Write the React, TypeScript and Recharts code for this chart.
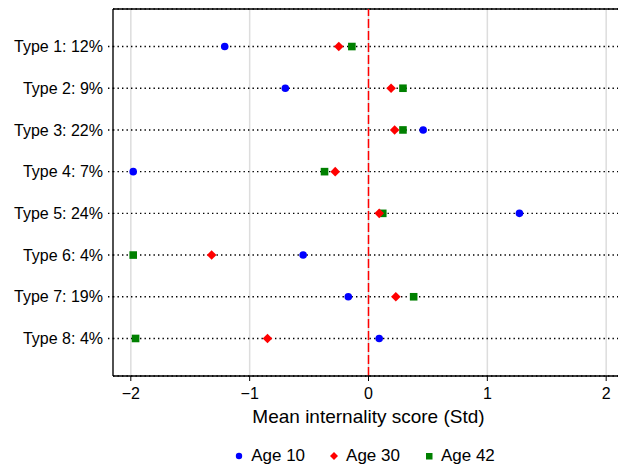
import React from 'react';
import {
  ScatterChart,
  Scatter,
  XAxis,
  YAxis,
  CartesianGrid,
  ReferenceLine,
  Legend,
} from 'recharts';

// Row labels, top to bottom
const categories = [
  'Type 1: 12%',
  'Type 2: 9%',
  'Type 3: 22%',
  'Type 4: 7%',
  'Type 5: 24%',
  'Type 6: 4%',
  'Type 7: 19%',
  'Type 8: 4%',
];

// Mean internality score (std) per type
const age10 = [-1.21, -0.7, 0.46, -1.98, 1.27, -0.55, -0.17, 0.09];
const age30 = [-0.25, 0.19, 0.22, -0.28, 0.09, -1.32, 0.23, -0.85];
const age42 = [-0.14, 0.29, 0.29, -0.37, 0.12, -1.98, 0.38, -1.96];

const xTicks = [-2, -1, 0, 1, 2];
const rowTicks = categories.map((_, i) => i + 1);

const toPoints = (vals: number[]) => vals.map((x, i) => ({ x, row: i + 1 }));

const FONT = '"Liberation Sans", Arial, Helvetica, sans-serif';

const Dot = ({ cx, cy, fill }: any) => <circle cx={cx} cy={cy} r={3.8} fill={fill} />;
const Diamond = ({ cx, cy, fill }: any) => (
  <polygon
    points={`${cx},${cy - 4.8} ${cx + 4.8},${cy} ${cx},${cy + 4.8} ${cx - 4.8},${cy}`}
    fill={fill}
  />
);
const Square = ({ cx, cy, fill }: any) => (
  <rect x={cx - 3.8} y={cy - 3.8} width={7.6} height={7.6} fill={fill} />
);

const legendItems = [
  { name: 'Age 10', color: '#0000ff', kind: 'circle' },
  { name: 'Age 30', color: '#ff0000', kind: 'diamond' },
  { name: 'Age 42', color: '#008000', kind: 'square' },
];

const renderLegend = () => (
  <div style={{ display: 'flex', justifyContent: 'center', alignItems: 'center', fontFamily: FONT, fontSize: 17, color: '#000' }}>
    {legendItems.map((it, i) => (
      <div key={it.name} style={{ display: 'flex', alignItems: 'center', marginRight: i < 2 ? 24 : 0 }}>
        <svg width={10} height={10} style={{ marginRight: 7 }}>
          {it.kind === 'circle' && <circle cx={5} cy={5} r={3.2} fill={it.color} />}
          {it.kind === 'diamond' && <polygon points="5,1 9,5 5,9 1,5" fill={it.color} />}
          {it.kind === 'square' && <rect x={2} y={2} width={6.5} height={6.5} fill={it.color} />}
        </svg>
        <span>{it.name}</span>
      </div>
    ))}
  </div>
);

const fmtX = (v: number) => (v < 0 ? `\u2212${Math.abs(v)}` : `${v}`);

export default function App() {
  return (
    <div style={{ position: 'absolute', left: 0, top: 0, width: 618, height: 473, overflow: 'hidden', background: '#fff' }}>
      <ScatterChart width={640} height={473} margin={{ top: 9, right: 16, left: 0, bottom: 0 }}>
        <CartesianGrid horizontal={false} stroke="#dddddd" strokeWidth={1.5} />
        <CartesianGrid vertical={false} stroke="#000" strokeWidth={1.4} strokeDasharray="1.4 3.1" />
        <XAxis
          type="number"
          dataKey="x"
          domain={[-2.15, 2.15]}
          ticks={xTicks}
          tickFormatter={fmtX}
          allowDataOverflow
          height={73}
          stroke="#000"
          axisLine={{ stroke: '#000', strokeWidth: 1.3 }}
          tickLine={{ stroke: '#000' }}
          tickSize={5}
          tickMargin={7}
          tick={{ fill: '#000', fontSize: 16, fontFamily: FONT }}
          label={{
            value: 'Mean internality score (Std)',
            position: 'insideTop',
            offset: 34,
            fill: '#000',
            fontSize: 19,
            fontFamily: FONT,
          }}
        />
        <YAxis
          type="number"
          dataKey="row"
          domain={[0.1, 8.9]}
          reversed
          ticks={rowTicks}
          tickFormatter={(v: number) => categories[v - 1]}
          allowDataOverflow
          width={113}
          axisLine={{ stroke: '#000', strokeWidth: 1.3 }}
          tickLine={{ stroke: '#000', strokeWidth: 1.4, strokeDasharray: '1.4 3.1' }}
          tickSize={5}
          tickMargin={5}
          tick={{ fill: '#000', fontSize: 16, fontFamily: FONT }}
        />
        <ReferenceLine y={0.1} stroke="#000" strokeWidth={1.3} />
        <ReferenceLine x={0} stroke="#ff0000" strokeWidth={1.5} strokeDasharray="9 3" />
        <Scatter name="Age 10" data={toPoints(age10)} fill="#0000ff" shape={Dot} isAnimationActive={false} />
        <Scatter name="Age 42" data={toPoints(age42)} fill="#008000" shape={Square} isAnimationActive={false} />
        <Scatter name="Age 30" data={toPoints(age30)} fill="#ff0000" shape={Diamond} isAnimationActive={false} />
        <Legend
          verticalAlign="bottom"
          content={renderLegend}
          wrapperStyle={{ left: 109, width: 511, height: 24, top: 446 }}
        />
      </ScatterChart>
    </div>
  );
}
